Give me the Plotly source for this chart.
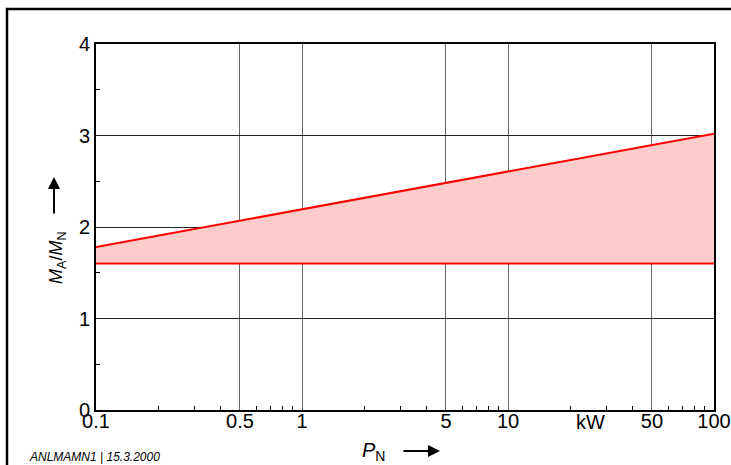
import plotly.graph_objects as go

# Data
p_n = [0.1, 100]
upper_ratio = [1.78, 3.02]
lower_ratio = [1.6, 1.6]

x_tickvals = [0.1, 0.5, 1, 5, 10, 50, 100]
x_ticktext = ["0.1", "0.5", "1", "5", "10", "50", "100"]
x_minor = [0.2, 0.3, 0.4, 0.6, 0.7, 0.8, 0.9, 2, 3, 4, 6, 7, 8, 9,
           20, 30, 40, 60, 70, 80, 90]
y_tickvals = [0, 1, 2, 3, 4]
y_minor = [0.5, 1.5, 2.5, 3.5]

W, H = 731, 465
L, R, T, B = 96, 714, 44, 410


def px(xp):
    return (xp - L) / (R - L)


def py(yp):
    return (B - yp) / (B - T)


fig = go.Figure()
fig.add_trace(go.Scatter(x=p_n, y=lower_ratio, mode="lines",
                         line=dict(color="#ff0000", width=2),
                         showlegend=False, hoverinfo="skip"))
fig.add_trace(go.Scatter(x=p_n, y=upper_ratio, mode="lines",
                         line=dict(color="#ff0000", width=2),
                         fill="tonexty", fillcolor="#ffcccc",
                         showlegend=False, hoverinfo="skip"))

font = "Liberation Sans, Arial, sans-serif"
FS = 20

fig.update_layout(
    width=W, height=H,
    margin=dict(l=L, r=W - R, t=T, b=H - B, pad=0, autoexpand=False),
    paper_bgcolor="white", plot_bgcolor="white",
    font=dict(family=font, size=FS, color="black"),
    xaxis=dict(type="log", range=[-1, 2], tickmode="array",
               tickvals=x_tickvals, ticktext=x_ticktext,
               showgrid=True, gridcolor="#666", gridwidth=1,
               showline=True, linecolor="black", linewidth=2, mirror=True,
               ticks="", zeroline=False, automargin=False,
               ticklabelstandoff=-8,
               minor=dict(tickmode="array", tickvals=x_minor, ticks="inside",
                          ticklen=4, tickcolor="black", tickwidth=1,
                          showgrid=False),
               tickfont=dict(size=FS)),
    yaxis=dict(range=[0, 4], tickmode="array", tickvals=y_tickvals,
               showgrid=True, gridcolor="#222", gridwidth=1,
               showline=True, linecolor="black", linewidth=2, mirror=True,
               ticks="", zeroline=False, automargin=False,
               minor=dict(tickmode="array", tickvals=y_minor, ticks="inside",
                          ticklen=4, tickcolor="black", tickwidth=1,
                          showgrid=False),
               tickfont=dict(size=FS)),
)

annotations = [
    dict(x=px(590), y=py(422), xref="paper", yref="paper", text="kW",
         showarrow=False, font=dict(size=FS), xanchor="center", yanchor="middle"),
    dict(x=px(373), y=py(451), xref="paper", yref="paper",
         text="<i>P</i><sub>N</sub>", showarrow=False, font=dict(size=FS),
         xanchor="center", yanchor="middle"),
    dict(x=px(57), y=py(258), xref="paper", yref="paper",
         text="<i>M</i><sub>A</sub>/<i>M</i><sub>N</sub>", showarrow=False,
         textangle=-90, font=dict(size=18), xanchor="center", yanchor="middle"),
    dict(x=px(440), y=py(451), ax=-38, ay=0, xref="paper", yref="paper",
         axref="pixel", ayref="pixel", text="", showarrow=True, arrowhead=2,
         arrowsize=1.2, arrowwidth=2, arrowcolor="black"),
    dict(x=px(54), y=py(177), ax=0, ay=38, xref="paper", yref="paper",
         axref="pixel", ayref="pixel", text="", showarrow=True, arrowhead=2,
         arrowsize=1.2, arrowwidth=2, arrowcolor="black"),
    dict(x=px(27), y=py(457), xref="paper", yref="paper",
         text="<i>ANLMAMN1 | 15.3.2000</i>", showarrow=False,
         font=dict(size=12), xanchor="left", yanchor="middle"),
]
fig.update_layout(annotations=annotations)

# outer frame (left and top edges visible)
fig.add_shape(type="rect", xref="paper", yref="paper",
              x0=px(7), x1=px(760), y0=py(490), y1=py(9),
              line=dict(color="black", width=2.5), layer="above")

fig.write_html("out.html")
